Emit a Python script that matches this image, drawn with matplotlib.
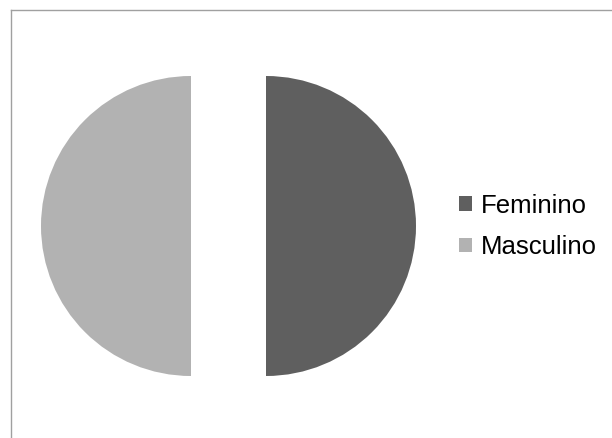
import matplotlib
matplotlib.use("Agg")
import matplotlib.pyplot as plt
from matplotlib.lines import Line2D

labels = ["Feminino", "Masculino"]
values = [50, 50]
colors = ["#5f5f5f", "#b2b2b2"]

W, H, DPI = 612, 438, 100
fig = plt.figure(figsize=(W / DPI, H / DPI), dpi=DPI)
fig.patch.set_facecolor("white")
plt.rcParams['font.family'] = ['Liberation Sans', 'DejaVu Sans']

ax = fig.add_axes([0, 0, 1, 1])
R = 150.0
cx, cy = 228.5, H - 226.0
wedges, _ = ax.pie(values, colors=colors, startangle=90, counterclock=False,
                   explode=[0.25, 0.25], radius=1.0,
                   wedgeprops=dict(linewidth=0, antialiased=True))
ax.set_xlim(-cx / R, (W - cx) / R)
ax.set_ylim(-cy / R, (H - cy) / R)
ax.set_aspect('auto')
ax.axis('off')

# frame lines (top and left)
fig.add_artist(Line2D([10.5 / W, 1.0], [1 - 9.5 / H, 1 - 9.5 / H], color="#a0a0a0", lw=1.0,
                      transform=fig.transFigure))
fig.add_artist(Line2D([10.5 / W, 10.5 / W], [0, 1 - 9.5 / H], color="#a0a0a0", lw=1.0,
                      transform=fig.transFigure))

fs = 18.5
leg = fig.legend(wedges, labels, loc="center left",
                 bbox_to_anchor=(459 / W, 1 - 226.5 / H),
                 frameon=False, fontsize=fs, borderpad=0, borderaxespad=0,
                 handlelength=0.5, handleheight=0.5, handletextpad=0.35,
                 labelspacing=0.67)

fig.savefig("out.png", dpi=DPI, facecolor="white")
